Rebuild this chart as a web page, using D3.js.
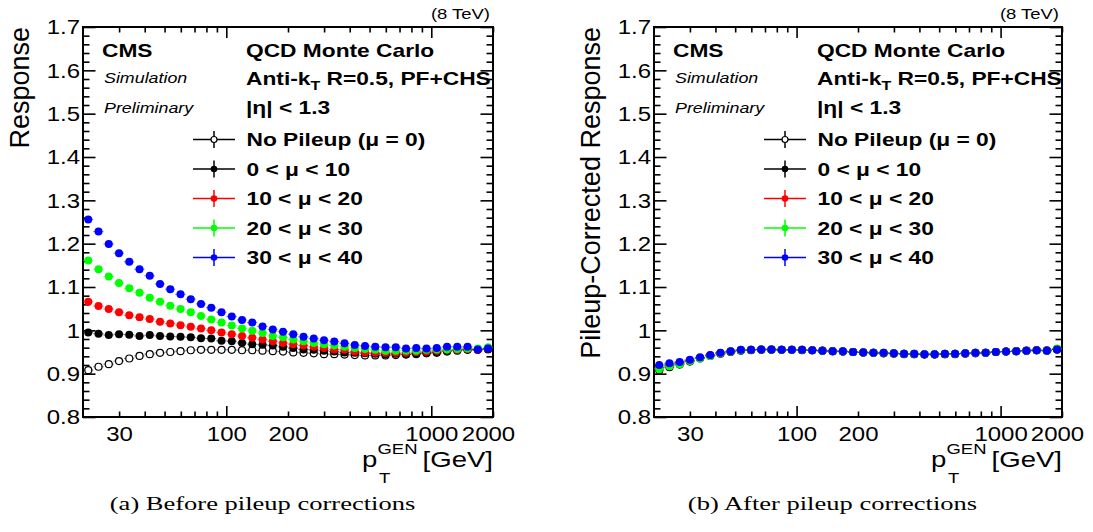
<!DOCTYPE html>
<html lang="en">
<head>
<meta charset="utf-8">
<title>Jet response vs pT, before and after pileup corrections</title>
<script src="https://cdn.jsdelivr.net/npm/d3@7"></script>
<style>
  body { margin: 0; background: #fff; }
  svg text { font-family: "Liberation Sans", Arial, Helvetica, sans-serif; fill: #000; }
  svg text.caption { font-family: "Liberation Serif", "Times New Roman", serif; }
</style>
</head>
<body>
<svg id="chart" width="1093" height="532"></svg>
<script>
// pT bin edges in GeV (40 log bins from 20 to 2000)
var ptEdges = [20, 22.44, 25.18, 28.25, 31.70, 35.57, 39.91, 44.77, 50.24, 56.37,
               63.25, 70.96, 79.62, 89.34, 100.2, 112.5, 126.2, 141.6, 158.9, 178.3,
               200, 224.4, 251.8, 282.5, 317.0, 355.7, 399.1, 447.7, 502.4, 563.7,
               632.5, 709.6, 796.2, 893.4, 1002, 1125, 1262, 1416, 1589, 1783, 2000];

var seriesLabels = ["No Pileup (\u03bc = 0)", "0 < \u03bc < 10", "10 < \u03bc < 20", "20 < \u03bc < 30", "30 < \u03bc < 40"];
var seriesColors = ["#000000", "#000000", "#ff0000", "#00ff00", "#0000ff"];
var seriesOpen   = [true, false, false, false, false];

// (a) before pileup corrections
var beforeNoPU   = [0.908,0.916,0.922,0.929,0.935,0.941,0.945,0.948,0.950,0.952,0.954,0.955,0.955,0.955,0.955,0.954,0.954,0.953,0.952,0.951,
                    0.949,0.948,0.947,0.945,0.945,0.944,0.943,0.942,0.942,0.942,0.943,0.944,0.945,0.947,0.948,0.951,0.953,0.955,0.955,0.956];
var before0to10  = [0.995,0.992,0.989,0.991,0.990,0.987,0.989,0.987,0.986,0.985,0.984,0.982,0.981,0.976,0.975,0.971,0.968,0.967,0.965,0.962,
                    0.959,0.956,0.955,0.953,0.951,0.949,0.948,0.947,0.946,0.945,0.946,0.945,0.947,0.948,0.950,0.953,0.955,0.956,0.955,0.957];
var before10to20 = [1.066,1.056,1.049,1.042,1.035,1.030,1.026,1.020,1.016,1.012,1.008,1.004,1.000,0.995,0.991,0.987,0.983,0.979,0.975,0.971,
                    0.968,0.965,0.962,0.959,0.956,0.955,0.951,0.949,0.948,0.948,0.948,0.948,0.950,0.951,0.953,0.955,0.955,0.957,0.955,0.958];
var before20to30 = [1.161,1.141,1.124,1.109,1.097,1.087,1.075,1.066,1.057,1.049,1.042,1.033,1.025,1.018,1.011,1.004,0.999,0.994,0.987,0.984,
                    0.979,0.975,0.971,0.968,0.965,0.962,0.959,0.957,0.955,0.953,0.953,0.953,0.953,0.955,0.956,0.956,0.957,0.958,0.958,0.961];
var before30to40 = [1.256,1.228,1.199,1.178,1.158,1.141,1.126,1.107,1.095,1.083,1.072,1.061,1.052,1.042,1.032,1.024,1.018,1.009,1.002,0.997,
                    0.991,0.985,0.981,0.977,0.974,0.970,0.966,0.964,0.962,0.961,0.961,0.958,0.959,0.958,0.959,0.962,0.962,0.962,0.956,0.958];

// (b) after pileup corrections
var afterNoPU    = [0.908,0.915,0.921,0.928,0.935,0.941,0.946,0.950,0.953,0.954,0.955,0.955,0.955,0.955,0.954,0.954,0.953,0.952,0.951,0.950,
                    0.949,0.948,0.947,0.946,0.945,0.945,0.944,0.944,0.945,0.945,0.946,0.947,0.948,0.950,0.951,0.952,0.953,0.954,0.954,0.956];
var after0to10   = [0.915,0.920,0.925,0.930,0.936,0.942,0.947,0.951,0.954,0.955,0.956,0.956,0.955,0.955,0.955,0.954,0.953,0.952,0.951,0.950,
                    0.949,0.948,0.947,0.947,0.946,0.945,0.945,0.945,0.945,0.946,0.947,0.948,0.948,0.950,0.951,0.952,0.953,0.954,0.953,0.956];
var after10to20  = [0.913,0.919,0.924,0.930,0.936,0.942,0.947,0.951,0.954,0.955,0.956,0.956,0.955,0.955,0.955,0.954,0.953,0.952,0.952,0.950,
                    0.949,0.948,0.948,0.947,0.946,0.946,0.945,0.945,0.946,0.946,0.947,0.948,0.948,0.950,0.951,0.952,0.953,0.954,0.953,0.957];
var after20to30  = [0.911,0.917,0.922,0.929,0.935,0.941,0.947,0.951,0.954,0.955,0.956,0.956,0.955,0.955,0.955,0.954,0.953,0.952,0.952,0.950,
                    0.949,0.948,0.948,0.947,0.946,0.946,0.945,0.945,0.946,0.946,0.947,0.948,0.948,0.950,0.951,0.952,0.953,0.954,0.953,0.958];
var after30to40  = [0.920,0.924,0.927,0.932,0.938,0.943,0.948,0.952,0.955,0.955,0.956,0.956,0.955,0.955,0.955,0.954,0.953,0.952,0.952,0.950,
                    0.949,0.948,0.948,0.947,0.946,0.946,0.945,0.945,0.946,0.946,0.947,0.948,0.948,0.950,0.951,0.952,0.953,0.954,0.953,0.956];

// axis ticks
var xTickValues = [30, 40, 50, 60, 70, 80, 90, 100, 200, 300, 400, 500, 600, 700, 800, 900, 1000, 2000];
var xMajorTicks = [100, 1000];
var xTickLabels = [30, 100, 200, 1000, 2000];
var yTickValues = d3.range(0, 46).map(function(i){ return +(0.8 + i * 0.02).toFixed(2); });

var SX = 1.23;   // horizontal stretch of the original figure's text
var svg = d3.select("#chart");

function isMajorY(v){ return Math.abs(v * 10 - Math.round(v * 10)) < 1e-6; }

function stext(g, x, y, str, size, sx){
    return g.append("text")
            .attr("transform", "translate(" + x + "," + y + ") scale(" + (sx || SX) + ",1)")
            .attr("font-size", size)
            .text(str);
}

function drawPanel(p){
    var g = svg.append("g");
    var x = d3.scaleLog().domain([20, 2000]).range([p.x0, p.x1]);
    var y = d3.scaleLinear().domain([0.8, 1.7]).range([p.y1, p.y0]);

    // bottom axis with labels
    var gb = g.append("g").attr("transform", "translate(0," + p.y1 + ")")
              .call(d3.axisBottom(x).tickValues(xTickValues).tickSize(-11)
                      .tickFormat(function(d){ return xTickLabels.indexOf(d) >= 0 ? d : ""; }));
    gb.selectAll(".tick line").attr("y2", function(d){ return xMajorTicks.indexOf(d) >= 0 ? -11 : -5.5; });
    gb.selectAll(".tick text")
      .attr("y", 10).attr("dy", "0.71em")
      .attr("x", function(d){ return d === 2000 ? -5 / SX : 0; })
      .attr("transform", "scale(" + SX + ",1)")
      .attr("font-size", 19.5).attr("font-family", null);

    // top axis
    var gt = g.append("g").attr("transform", "translate(0," + p.y0 + ")")
              .call(d3.axisTop(x).tickValues(xTickValues).tickSize(-11).tickFormat(""));
    gt.selectAll(".tick line").attr("y2", function(d){ return xMajorTicks.indexOf(d) >= 0 ? 11 : 5.5; });

    // left axis with labels
    var gl = g.append("g").attr("transform", "translate(" + p.x0 + ",0)")
              .call(d3.axisLeft(y).tickValues(yTickValues).tickSize(-12.5)
                      .tickFormat(function(d){ return isMajorY(d) ? String(+d.toFixed(1)) : ""; }));
    gl.selectAll(".tick line").attr("x2", function(d){ return isMajorY(d) ? 12.5 : 6.5; });
    gl.selectAll(".tick text")
      .attr("x", -3 / SX).attr("dy", "0.35em")
      .attr("transform", "scale(" + SX + ",1)")
      .attr("font-size", 19.5).attr("font-family", null);

    // right axis
    var gr = g.append("g").attr("transform", "translate(" + p.x1 + ",0)")
              .call(d3.axisRight(y).tickValues(yTickValues).tickSize(-12.5).tickFormat(""));
    gr.selectAll(".tick line").attr("x2", function(d){ return isMajorY(d) ? -12.5 : -6.5; });

    g.selectAll(".domain").remove();
    g.selectAll(".tick line").attr("stroke", "#000").attr("stroke-width", 1.6);

    // frame
    g.append("rect")
     .attr("x", p.x0).attr("y", p.y0)
     .attr("width", p.x1 - p.x0).attr("height", p.y1 - p.y0)
     .attr("fill", "none").attr("stroke", "#000").attr("stroke-width", 2);

    // data: horizontal bin-width bars + markers, drawn series by series
    p.series.forEach(function(vals, k){
        var pts = vals.map(function(v, i){
            return { lo: ptEdges[i], hi: ptEdges[i + 1], c: (ptEdges[i] + ptEdges[i + 1]) / 2, v: v };
        });
        var sg = g.append("g");
        sg.selectAll("line").data(pts).enter().append("line")
          .attr("x1", function(d){ return x(d.lo); })
          .attr("x2", function(d){ return x(d.hi); })
          .attr("y1", function(d){ return y(d.v); })
          .attr("y2", function(d){ return y(d.v); })
          .attr("stroke", seriesColors[k]).attr("stroke-width", 1.2).attr("stroke-opacity", 0.5);
        sg.selectAll("circle").data(pts).enter().append("circle")
          .attr("cx", function(d){ return x(d.c); })
          .attr("cy", function(d){ return y(d.v); })
          .attr("r", seriesOpen[k] ? 3.5 : 4)
          .attr("fill", seriesOpen[k] ? "#fff" : seriesColors[k])
          .attr("stroke", seriesOpen[k] ? "#000" : "none")
          .attr("stroke-width", 1.2);
    });

    // header texts
    stext(g, p.x1 - 3, 19, "(8 TeV)", 15).attr("text-anchor", "end");
    stext(g, p.x0 + 19, 57, "CMS", 18.5).attr("font-weight", "bold");
    stext(g, p.x0 + 21, 83, "Simulation", 14.5).style("font-style", "italic");
    stext(g, p.x0 + 21, 113, "Preliminary", 14.5).style("font-style", "italic");
    stext(g, p.x0 + 163, 57, "QCD Monte Carlo", 18.5).attr("font-weight", "bold");
    var ak = stext(g, p.x0 + 163, 85, "Anti-k", 18.5).attr("font-weight", "bold");
    ak.append("tspan").attr("font-size", 13).attr("dy", 5).text("T");
    ak.append("tspan").attr("dy", -5).text(" R=0.5, PF+CHS");
    stext(g, p.x0 + 163, 114, "|\u03b7| < 1.3", 18.5).attr("font-weight", "bold");

    // legend
    var legY = [139.5, 169, 198.5, 228, 257.5];
    seriesLabels.forEach(function(lab, k){
        var cy = legY[k], mx = p.x0 + 131;
        var lg = g.append("g");
        lg.append("line").attr("x1", p.x0 + 110).attr("x2", p.x0 + 152).attr("y1", cy).attr("y2", cy)
          .attr("stroke", seriesColors[k]).attr("stroke-width", 1.5);
        lg.append("line").attr("x1", mx).attr("x2", mx).attr("y1", cy - 8.5).attr("y2", cy + 8.5)
          .attr("stroke", seriesColors[k]).attr("stroke-width", 1.5);
        lg.append("circle").attr("cx", mx).attr("cy", cy).attr("r", seriesOpen[k] ? 3 : 3.3)
          .attr("fill", seriesOpen[k] ? "#fff" : seriesColors[k])
          .attr("stroke", seriesOpen[k] ? "#000" : "none").attr("stroke-width", 1.2);
        stext(lg, p.x0 + 163.5, cy + 6.7, lab, 18.5).attr("font-weight", "bold");
    });

    // axis titles
    g.append("text")
     .attr("transform", "translate(" + (p.x0 - 54) + "," + p.y0 + ") rotate(-90)")
     .attr("text-anchor", "end").attr("font-size", 27)
     .text(p.yTitle);
    var px = p.x1 - 131;
    stext(g, px, 467, "p", 22.4);
    stext(g, px + 15.5, 454, "GEN", 15);
    stext(g, px + 17, 483, "T", 15);
    stext(g, p.x1, 467, "[GeV]", 22.4).attr("text-anchor", "end");

    // caption
    stext(g, p.capX, 510, p.caption, 19.5, 1.36)
      .attr("class", "caption")
      .attr("text-anchor", "middle");
}

drawPanel({
    x0: 83, x1: 493, y0: 27, y1: 417,
    series: [beforeNoPU, before0to10, before10to20, before20to30, before30to40],
    yTitle: "Response",
    caption: "(a)  Before pileup corrections", capX: 262.5
});
drawPanel({
    x0: 654, x1: 1062, y0: 27, y1: 417,
    series: [afterNoPU, after0to10, after10to20, after20to30, after30to40],
    yTitle: "Pileup-Corrected Response",
    caption: "(b)  After pileup corrections", capX: 832.5
});
</script>
</body>
</html>
